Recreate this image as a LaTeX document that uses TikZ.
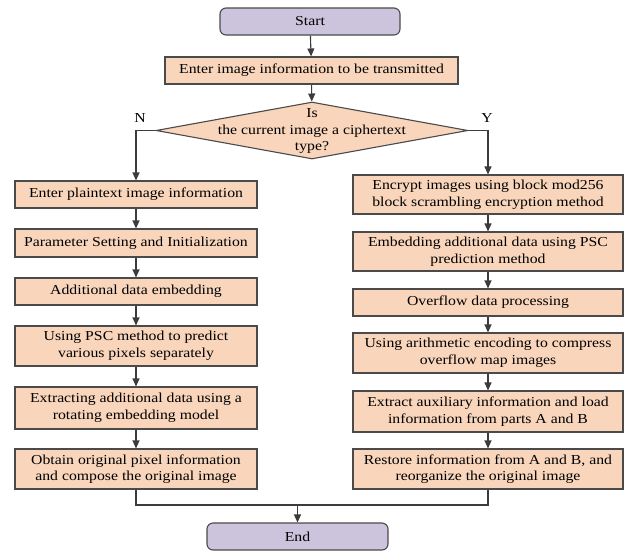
\documentclass[tikz,border=0pt]{standalone}
\usepackage{fontspec}
\setmainfont{Liberation Serif}[FakeStretch=1.15]
\usetikzlibrary{arrows.meta,shapes.geometric}
\definecolor{peach}{HTML}{F8D5BB}
\definecolor{lav}{HTML}{CCC3DC}
\definecolor{edge}{HTML}{4A4A4A}
\definecolor{wire}{HTML}{3C3C3C}
\begin{document}
\begin{tikzpicture}[x=1pt,y=-1pt,
  font=\fontsize{13.7}{16.7}\selectfont,
  proc/.style={draw=edge,line width=1.1pt,fill=peach,inner sep=0pt,align=center},
  lbox/.style={proc,minimum width=242pt},
  rbox/.style={proc,minimum width=270pt},
  term/.style={draw=edge,line width=1.1pt,fill=lav,rounded corners=6pt,minimum width=180pt,minimum height=27pt,inner sep=0pt},
  flow/.style={draw=wire,line width=1.1pt,-{Triangle[length=8pt,width=7pt]}},
  wireline/.style={draw=wire,line width=1.1pt}]
\useasboundingbox (0,0) rectangle (629,552);
\node[term] (start) at (310,21.5) {Start};
\node[proc,minimum width=293pt,minimum height=27pt] (enter) at (311.5,70.5) {Enter image information to be transmitted};
\node[diamond,draw=edge,line width=1.1pt,fill=peach,minimum width=312pt,minimum height=57pt,inner sep=0pt] (dec) at (312,130.5) {};
\node[align=center,inner sep=0pt] (dectext) at (312,131) {Is\\the current image a ciphertext\\type?};
\node (nlab) at (140,118) {N};
\node (ylab) at (487,118) {Y};
% left column
\node[lbox,minimum height=27pt] (l1) at (136,194.5) {Enter plaintext image information};
\node[lbox,minimum height=28pt] (l2) at (136,243) {Parameter Setting and Initialization};
\node[lbox,minimum height=27pt] (l3) at (136,291.5) {Additional data embedding};
\node[lbox,minimum height=40pt] (l4) at (136,346) {Using PSC method to predict\\various pixels separately};
\node[lbox,minimum height=42pt] (l5) at (136,408) {Extracting additional data using a\\rotating embedding model};
\node[lbox,minimum height=40pt] (l6) at (136,469) {Obtain original pixel information\\and compose the original image};
% right column
\node[rbox,minimum height=39pt] (r1) at (488,194.5) {Encrypt images using block mod256\\block scrambling encryption method};
\node[rbox,minimum height=39pt] (r2) at (488,251.5) {Embedding additional data using PSC\\prediction method};
\node[rbox,minimum height=27pt] (r3) at (488,302.5) {Overflow data processing};
\node[rbox,minimum height=40pt] (r4) at (488,353) {Using arithmetic encoding to compress\\overflow map images};
\node[rbox,minimum height=41pt] (r5) at (488,411.5) {Extract auxiliary information and load\\information from parts A and B};
\node[rbox,minimum height=40pt] (r6) at (488,469) {Restore information from A and B, and\\reorganize the original image};
\node[term,minimum width=181pt] (end) at (297.5,536.5) {End};
\coordinate (lm) at (136,505);
\coordinate (rm) at (488,505);
\coordinate (cm) at (297.5,505);
% connectors
\draw[flow] (start) -- (enter);
\draw[flow] (enter) -- (dec);
\draw[flow] (dec.west) -| (l1.north);
\draw[flow] (dec.east) -| (r1.north);
\foreach \a/\b in {l1/l2,l2/l3,l3/l4,l4/l5,l5/l6,r1/r2,r2/r3,r3/r4,r4/r5,r5/r6}
  \draw[flow] (\a) -- (\b);
\draw[wireline] (l6.south) -- (lm) -- (rm) -- (r6.south);
\draw[flow] (cm) -- (end);
\end{tikzpicture}
\end{document}
